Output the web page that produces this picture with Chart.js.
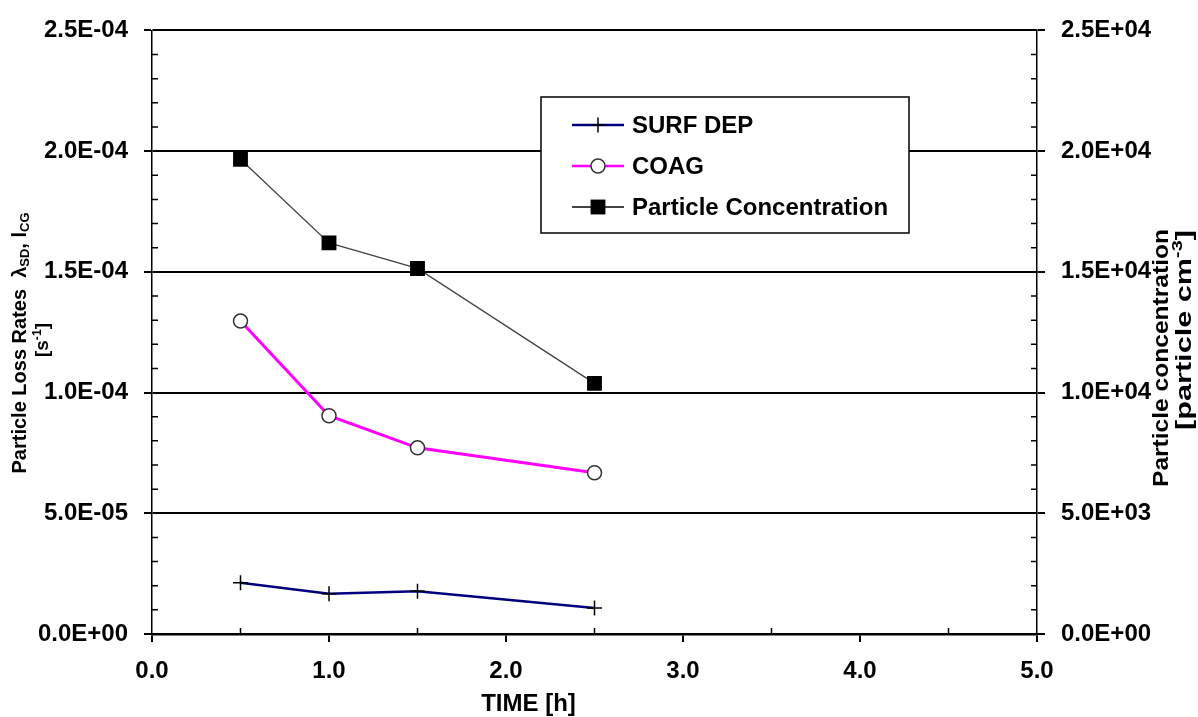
<!DOCTYPE html>
<html>
<head>
<meta charset="utf-8">
<script src="https://cdn.jsdelivr.net/npm/chart.js@4/dist/chart.umd.min.js"></script>
<style>
  html, body { margin: 0; padding: 0; background: #fff; }
</style>
</head>
<body>
<canvas id="lossChart" width="1198" height="717"></canvas>
<script>
// data
const timeH = [0.5, 1.0, 1.5, 2.5];
const surfDep = [2.12e-5, 1.67e-5, 1.77e-5, 1.08e-5];
const coag = [1.296e-4, 9.04e-5, 7.71e-5, 6.68e-5];
const particleConc = [19660, 16200, 15140, 10380];

const seriesNames = ['SURF DEP', 'COAG', 'Particle Concentration'];
const xTitle = 'TIME [h]';

const FONT = '"Liberation Sans", Arial, sans-serif';
const TICK_FONT = { family: FONT, size: 24, weight: 'bold' };

function sci(v) {
  const parts = Number(v).toExponential(1).split('e');
  const exp = parseInt(parts[1], 10);
  const sign = exp < 0 ? '-' : '+';
  return parts[0] + 'E' + sign + String(Math.abs(exp)).padStart(2, '0');
}

function pts(ys) {
  return timeH.map((t, i) => ({ x: t, y: ys[i] }));
}

// text with sub/superscript pieces: [text, mode] mode: 0 normal, -1 sub, 1 sup
// len = wanted length along the text (stretches it), 0 = natural
function drawRich(ctx, pieces, size, cx, cy, rot, len) {
  ctx.save();
  ctx.translate(cx, cy);
  ctx.rotate(rot);
  let total = 0;
  const widths = pieces.map(p => {
    ctx.font = 'bold ' + (p[1] ? size * 0.65 : size) + 'px ' + FONT;
    const w = ctx.measureText(p[0]).width;
    total += w;
    return w;
  });
  if (len) ctx.scale(len / total, 1);
  let x = -total / 2;
  ctx.textBaseline = 'middle';
  ctx.textAlign = 'left';
  ctx.fillStyle = '#000';
  pieces.forEach((p, i) => {
    ctx.font = 'bold ' + (p[1] ? size * 0.65 : size) + 'px ' + FONT;
    const dy = p[1] === -1 ? size * 0.25 : (p[1] === 1 ? -size * 0.3 : 0);
    ctx.fillText(p[0], x, dy);
    x += widths[i];
  });
  ctx.restore();
}

const extras = {
  id: 'extras',
  afterDraw(chart) {
    const ctx = chart.ctx;
    const area = chart.chartArea;
    const x = chart.scales.x, y = chart.scales.y, y2 = chart.scales.y2;

    // minor ticks on the inside
    ctx.save();
    ctx.strokeStyle = '#000';
    ctx.lineWidth = 1.5;
    ctx.beginPath();
    for (let k = 1; k < 25; k++) {
      if (k % 5 === 0) continue;
      const py = y.getPixelForValue(k * 1e-5);
      ctx.moveTo(area.left, py); ctx.lineTo(area.left + 6, py);
      const py2 = y2.getPixelForValue(k * 1000);
      ctx.moveTo(area.right, py2); ctx.lineTo(area.right - 6, py2);
    }
    for (let k = 0; k < 5; k++) {
      const px = x.getPixelForValue(k + 0.5);
      ctx.moveTo(px, area.bottom); ctx.lineTo(px, area.bottom - 6);
    }
    ctx.stroke();
    ctx.restore();

    // axis titles
    drawRich(ctx, [['Particle Loss Rates  λ', 0], ['SD', -1], [', l', 0], ['CG', -1]], 20, 20, 343, -Math.PI / 2, 0);
    drawRich(ctx, [['[s', 0], ['-1', 1], [']', 0]], 19, 43, 340, -Math.PI / 2, 0);
    drawRich(ctx, [['Particle concentration', 0]], 22, 1162, 358, -Math.PI / 2, 258);
    drawRich(ctx, [['[particle cm', 0], ['-3', 1], [']', 0]], 22, 1185, 330, -Math.PI / 2, 200);

    ctx.save();
    ctx.font = 'bold 24px ' + FONT;
    ctx.fillStyle = '#000';
    ctx.textAlign = 'center';
    ctx.textBaseline = 'middle';
    ctx.fillText(xTitle, (area.left + area.right) / 2 - 66, 704);
    ctx.restore();

    // legend box
    ctx.save();
    ctx.fillStyle = '#fff';
    ctx.fillRect(541, 97, 368, 136);
    ctx.strokeStyle = '#000';
    ctx.lineWidth = 1.5;
    ctx.strokeRect(541, 97, 368, 136);
    const rows = [125, 166, 207];
    chart.data.datasets.forEach((ds, i) => {
      const ry = rows[i];
      ctx.strokeStyle = ds.borderColor;
      ctx.lineWidth = i === 2 ? 2 : 2.5;
      ctx.beginPath();
      ctx.moveTo(572, ry); ctx.lineTo(624, ry);
      ctx.stroke();
      ctx.fillStyle = ds.pointBackgroundColor;
      ctx.strokeStyle = ds.pointBorderColor;
      ctx.lineWidth = ds.pointBorderWidth;
      ctx.beginPath();
      if (ds.pointStyle === 'circle') {
        ctx.arc(598, ry, ds.pointRadius, 0, Math.PI * 2);
        ctx.fill(); ctx.stroke();
      } else if (ds.pointStyle === 'rect') {
        const s = ds.pointRadius * Math.SQRT1_2;
        ctx.fillRect(598 - s, ry - s, 2 * s, 2 * s);
      } else {
        ctx.moveTo(598, ry - ds.pointRadius); ctx.lineTo(598, ry + ds.pointRadius);
        ctx.moveTo(598 - ds.pointRadius, ry); ctx.lineTo(598 + ds.pointRadius, ry);
        ctx.stroke();
      }
      ctx.font = 'bold 24px ' + FONT;
      ctx.fillStyle = '#000';
      ctx.textAlign = 'left';
      ctx.textBaseline = 'middle';
      ctx.fillText(ds.label, 632, ry + 1);
    });
    ctx.restore();
  }
};

new Chart(document.getElementById('lossChart').getContext('2d'), {
  type: 'line',
  data: {
    datasets: [
      {
        label: seriesNames[0],
        data: pts(surfDep),
        yAxisID: 'y',
        borderColor: '#00007f',
        borderWidth: 2.5,
        pointStyle: 'cross',
        pointRadius: 7.5,
        pointBorderColor: '#000',
        pointBackgroundColor: '#000',
        pointBorderWidth: 1.5
      },
      {
        label: seriesNames[1],
        data: pts(coag),
        yAxisID: 'y',
        borderColor: '#ff00ff',
        borderWidth: 3,
        pointStyle: 'circle',
        pointRadius: 7,
        pointBorderColor: '#333',
        pointBackgroundColor: '#fff',
        pointBorderWidth: 1.5
      },
      {
        label: seriesNames[2],
        data: pts(particleConc),
        yAxisID: 'y2',
        borderColor: '#444',
        borderWidth: 1.3,
        pointStyle: 'rect',
        pointRadius: 10.5,
        pointBorderColor: '#000',
        pointBackgroundColor: '#000',
        pointBorderWidth: 0
      }
    ]
  },
  options: {
    responsive: false,
    animation: false,
    layout: { padding: { top: 25, left: 0, right: 0, bottom: 0 } },
    plugins: {
      legend: { display: false },
      tooltip: { enabled: false }
    },
    scales: {
      x: {
        type: 'linear',
        min: 0,
        max: 5,
        afterFit(s) { s.height = 83; },
        ticks: {
          stepSize: 1,
          padding: 15,
          color: '#000',
          font: TICK_FONT,
          callback: v => Number(v).toFixed(1)
        },
        grid: { drawOnChartArea: false, color: '#000', lineWidth: 2, tickLength: 8 },
        border: { display: true, color: '#000', width: 2.5 }
      },
      y: {
        position: 'left',
        min: 0,
        max: 2.5e-4,
        afterFit(s) { s.width = 152; },
        ticks: {
          stepSize: 5e-5,
          padding: 16,
          color: '#000',
          font: TICK_FONT,
          callback: v => sci(v)
        },
        grid: { color: '#000', lineWidth: 2, tickLength: 8 },
        border: { display: true, color: '#000', width: 1.5 }
      },
      y2: {
        position: 'right',
        min: 0,
        max: 25000,
        afterFit(s) { s.width = 161; },
        ticks: {
          stepSize: 5000,
          padding: 16,
          color: '#000',
          font: TICK_FONT,
          callback: v => sci(v)
        },
        grid: { drawOnChartArea: false, color: '#000', lineWidth: 2, tickLength: 8 },
        border: { display: true, color: '#000', width: 1.5 }
      }
    }
  },
  plugins: [extras]
});
</script>
</body>
</html>
